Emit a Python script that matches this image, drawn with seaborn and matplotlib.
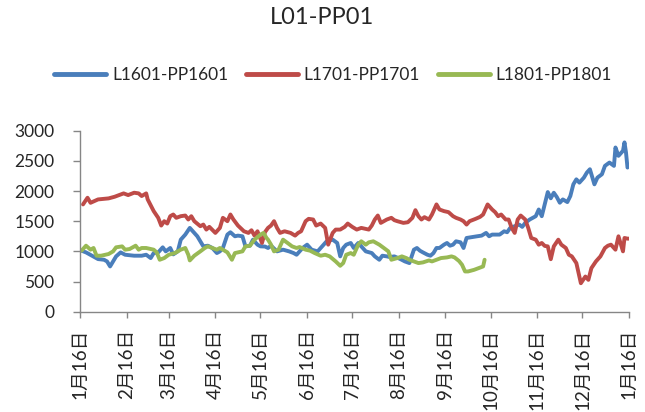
import numpy as np
import pandas as pd
import matplotlib
matplotlib.use("Agg")
import matplotlib.pyplot as plt
import seaborn as sns

# spread L - PP (day offset from 2015-01-16, value)
start = "2015-01-16"
series_names = ["L1601-PP1601", "L1701-PP1701", "L1801-PP1801"]
colors = ["#4A7EBB", "#BE4B48", "#98B954"]

blue_days = [1, 4, 8, 12, 16, 18, 20, 22, 24, 27, 30, 36, 41, 44, 47, 49, 52, 55, 57, 60,
             62, 65, 67, 70, 73, 75, 78, 80, 82, 85, 88, 91, 93, 95, 98, 100, 103, 105, 108, 110,
             113, 115, 118, 120, 123, 125, 127, 131, 135, 139, 142, 144, 146, 148, 151, 154, 158, 161, 164, 168,
             171, 173, 175, 177, 180, 182, 185, 187, 190, 194, 196, 199, 201, 204, 206, 209, 213, 216, 219, 222,
             224, 226, 228, 231, 233, 235, 237, 239, 242, 244, 246, 248, 250, 253, 255, 257, 261, 264, 267, 270,
             272, 274, 277, 279, 282, 284, 286, 289, 292, 294, 296, 299, 303, 305, 307, 309, 311, 313, 315, 317,
             319, 321, 324, 326, 328, 330, 332, 335, 337, 339, 342, 344, 347, 349, 352, 355, 356, 358, 361, 362,
             363, 364]
blue_vals = [1011, 983, 928, 872, 861, 833, 750, 833, 917, 983, 944, 928, 928, 944, 889, 972, 983, 1067, 1000, 1056,
             950, 1000, 1194, 1278, 1389, 1333, 1250, 1167, 1083, 1094, 1056, 972, 1000, 1056, 1278, 1317, 1250, 1261, 1250, 1083,
             1094, 1194, 1111, 1083, 1080, 1056, 1094, 1000, 1028, 1000, 972, 944, 1000, 1056, 1111, 1028, 1000, 1083, 1167, 1194,
             1139, 917, 1056, 1111, 1139, 1056, 1139, 1083, 1000, 972, 917, 861, 928, 917, 906, 917, 872, 833, 806, 1028,
             1056, 1011, 983, 944, 928, 972, 1056, 1056, 1111, 1139, 1094, 1111, 1167, 1150, 1056, 1222, 1239, 1250, 1261, 1306,
             1250, 1278, 1278, 1278, 1333, 1317, 1389, 1417, 1444, 1406, 1472, 1528, 1583, 1694, 1583, 1780, 1983, 1880, 1972, 1900,
             1806, 1861, 1817, 1917, 2111, 2194, 2139, 2222, 2306, 2361, 2111, 2222, 2278, 2417, 2472, 2417, 2722, 2583, 2667, 2806,
             2639, 2389]

red_days = [2, 5, 7, 12, 19, 23, 29, 32, 36, 39, 41, 44, 45, 49, 52, 54, 56, 58, 60, 62,
            64, 67, 70, 72, 74, 76, 80, 82, 84, 86, 90, 93, 95, 98, 100, 102, 105, 109, 112, 114,
            116, 118, 121, 123, 125, 127, 129, 131, 133, 136, 140, 143, 145, 147, 150, 152, 155, 157, 160, 163,
            165, 168, 170, 173, 176, 178, 181, 184, 187, 190, 192, 194, 196, 198, 200, 202, 204, 207, 209, 211,
            215, 218, 221, 223, 225, 227, 229, 232, 234, 237, 239, 242, 245, 248, 250, 253, 255, 257, 259, 263,
            266, 268, 270, 271, 274, 276, 278, 280, 283, 285, 287, 289, 291, 293, 296, 298, 300, 303, 305, 307,
            309, 311, 313, 315, 318, 320, 323, 325, 327, 330, 332, 333, 336, 338, 340, 343, 346, 349, 351, 353,
            356, 358, 361, 362, 364, 365]
red_vals = [1778, 1889, 1805, 1861, 1878, 1905, 1961, 1933, 1972, 1961, 1917, 1961, 1861, 1667, 1556, 1428, 1500, 1461, 1583, 1611,
            1556, 1583, 1594, 1528, 1583, 1500, 1417, 1444, 1361, 1406, 1306, 1389, 1556, 1500, 1611, 1528, 1428, 1333, 1306, 1350,
            1261, 1333, 1139, 1320, 1389, 1428, 1500, 1389, 1306, 1333, 1306, 1261, 1306, 1333, 1500, 1539, 1528, 1428, 1461, 1389,
            1111, 1306, 1361, 1361, 1406, 1461, 1406, 1361, 1389, 1372, 1361, 1428, 1528, 1594, 1472, 1500, 1528, 1556, 1517, 1500,
            1472, 1483, 1556, 1683, 1583, 1528, 1567, 1528, 1611, 1778, 1694, 1667, 1650, 1583, 1556, 1528, 1500, 1444, 1500, 1539,
            1572, 1611, 1722, 1778, 1694, 1650, 1583, 1611, 1528, 1528, 1389, 1306, 1528, 1594, 1528, 1389, 1222, 1194, 1111, 1139,
            1090, 1083, 870, 1083, 1194, 1111, 1056, 944, 917, 806, 583, 472, 583, 528, 722, 833, 917, 1056, 1094, 1111,
            1028, 1250, 1000, 1222, 1211, 1211]

green_days = [1, 4, 7, 9, 11, 14, 19, 22, 24, 28, 30, 33, 37, 39, 41, 44, 49, 51, 53, 56,
              59, 63, 67, 70, 72, 73, 76, 80, 83, 85, 88, 91, 93, 95, 98, 101, 103, 108, 110, 113,
              116, 120, 122, 124, 125, 127, 129, 132, 135, 138, 141, 144, 146, 150, 153, 156, 160, 163, 166, 170,
              173, 175, 177, 180, 182, 185, 187, 190, 192, 195, 199, 202, 205, 207, 211, 214, 217, 219, 222, 225,
              228, 232, 234, 237, 240, 244, 247, 249, 252, 254, 256, 258, 262, 265, 268, 269]
green_vals = [1011, 1094, 1028, 1056, 928, 928, 956, 1000, 1067, 1083, 1028, 1039, 1094, 1028, 1056, 1056, 1028, 983, 861, 889,
              944, 972, 1028, 1056, 944, 850, 928, 1000, 1056, 1083, 1056, 1028, 1056, 1028, 983, 861, 972, 1000, 1083, 1094,
              1194, 1278, 1306, 1222, 1194, 1111, 1000, 1028, 1194, 1139, 1083, 1056, 1072, 1028, 1011, 972, 928, 944, 917, 833,
              761, 806, 944, 972, 944, 1111, 1167, 1111, 1150, 1167, 1111, 1056, 1000, 861, 889, 917, 889, 861, 833, 806,
              817, 850, 833, 861, 889, 900, 917, 900, 840, 778, 667, 667, 694, 722, 750, 861]

tick_dates = ["2015-01-16", "2015-02-16", "2015-03-16", "2015-04-16", "2015-05-16", "2015-06-16", "2015-07-16",
              "2015-08-16", "2015-09-16", "2015-10-16", "2015-11-16", "2015-12-16", "2016-01-16"]
tick_labels = ["1月16日", "2月16日", "3月16日", "4月16日", "5月16日", "6月16日", "7月16日",
               "8月16日", "9月16日", "10月16日", "11月16日", "12月16日", "1月16日"]
y_ticks = [0, 500, 1000, 1500, 2000, 2500, 3000]

frames = []
for name, days, vals in zip(series_names,
                            [blue_days, red_days, green_days],
                            [blue_vals, red_vals, green_vals]):
    d = pd.Timestamp(start) + pd.to_timedelta(days, unit="D")
    frames.append(pd.DataFrame({"date": d, "value": vals, "series": name}))
df = pd.concat(frames, ignore_index=True)

sns.set_style("white")
plt.rcParams["font.family"] = ["Lato", "Noto Sans CJK SC", "DejaVu Sans"]

fig = plt.figure(figsize=(6.45, 4.12), dpi=100)
ax = fig.add_axes([80 / 645, (412 - 311.7) / 412, 549 / 645, 181 / 412])

sns.lineplot(data=df, x="date", y="value", hue="series", hue_order=series_names,
             palette=colors, estimator=None, linewidth=2.8, ax=ax)

ax.set_xlim(pd.Timestamp(tick_dates[0]), pd.Timestamp(tick_dates[-1]))
ax.set_ylim(0, 3000)
ax.set_yticks(y_ticks)
ax.set_xticks(pd.to_datetime(tick_dates))
ax.set_xticklabels(tick_labels, rotation=90)
ax.set_xlabel("")
ax.set_ylabel("")

for side in ["top", "right"]:
    ax.spines[side].set_visible(False)
for side in ["left", "bottom"]:
    ax.spines[side].set_color("#868686")
    ax.spines[side].set_linewidth(1.0)
ax.tick_params(axis="y", length=5, width=1, color="#868686", labelsize=12.5, pad=13.5, direction="out", left=True)
ax.tick_params(axis="x", length=4, width=1, color="#868686", labelsize=13.5, pad=8, direction="out", bottom=True)

sns.move_legend(ax, "center", bbox_to_anchor=(333 / 645, 1 - 75 / 412),
                bbox_transform=fig.transFigure, ncol=3, frameon=False, title=None,
                fontsize=12.5, handlelength=3.0, handletextpad=0.35, columnspacing=1.0)
for line in ax.get_legend().get_lines():
    line.set_linewidth(3.5)

fig.suptitle("L01-PP01", x=0.5, y=1 - 18 / 412, va="center", fontsize=17)

plt.savefig("out.png", dpi=100)
